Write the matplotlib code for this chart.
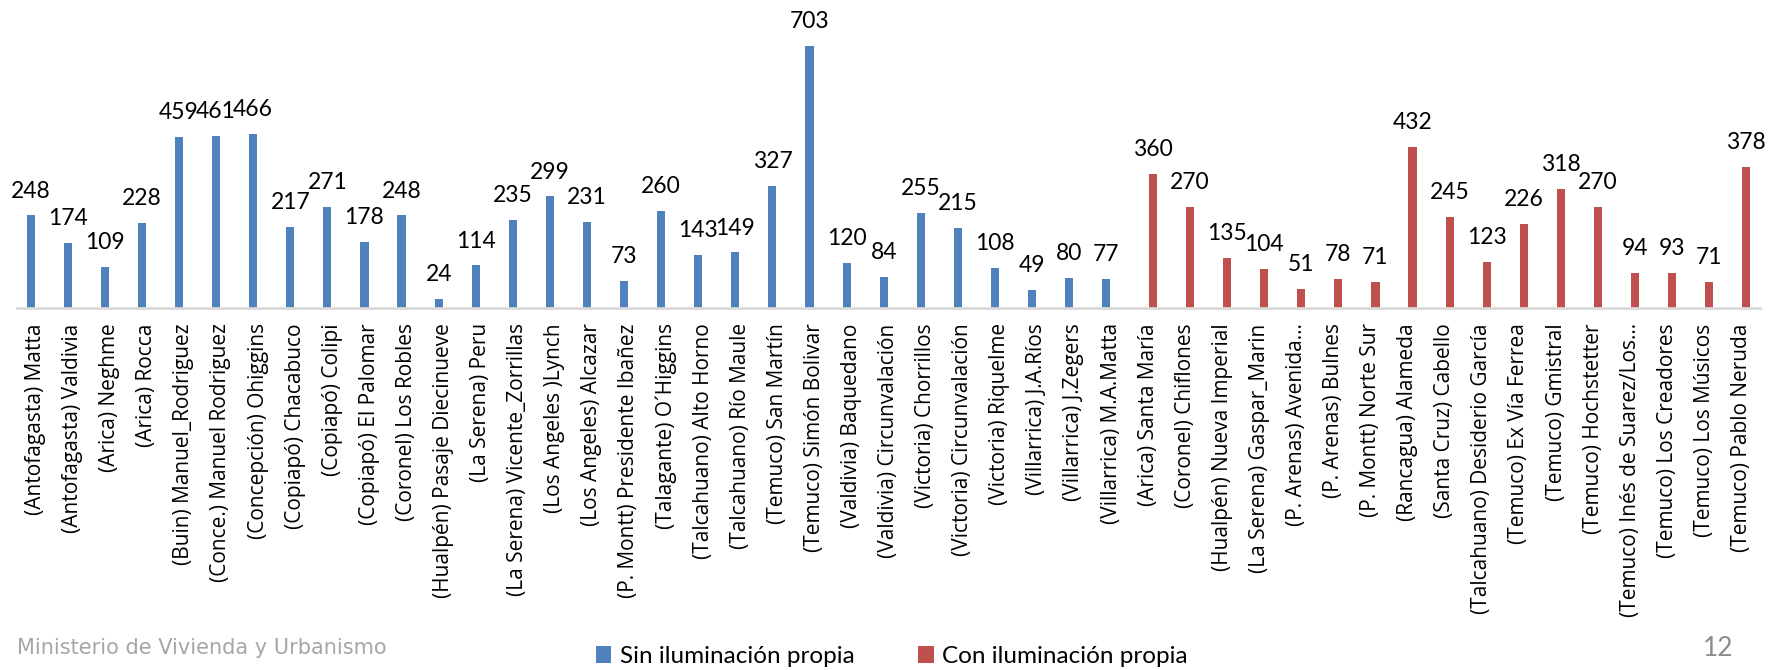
import numpy as np
import matplotlib.pyplot as plt

# Categorias (nombre de cada sitio)
sin_cats = ['(Antofagasta) Matta', '(Antofagasta) Valdivia', '(Arica) Neghme', '(Arica) Rocca',
            '(Buin) Manuel_Rodriguez', '(Conce.) Manuel Rodriguez', '(Concepción) Ohiggins',
            '(Copiapó) Chacabuco', '(Copiapó) Colipi', '(Copiapó) El Palomar', '(Coronel) Los Robles',
            '(Hualpén) Pasaje Diecinueve', '(La Serena) Peru', '(La Serena) Vicente_Zorrillas',
            '(Los Angeles )Lynch', '(Los Angeles) Alcazar', '(P. Montt) Presidente Ibañez',
            '(Talagante) O´Higgins', '(Talcahuano) Alto Horno', '(Talcahuano) Río Maule',
            '(Temuco) San Martín', '(Temuco) Simón Bolivar', '(Valdivia) Baquedano',
            '(Valdivia) Circunvalación', '(Victoria) Chorrillos', '(Victoria) Circunvalación',
            '(Victoria) Riquelme', '(Villarrica) J.A.Ríos', '(Villarrica) J.Zegers',
            '(Villarrica) M.A.Matta']
con_cats = ['(Arica) Santa María', '(Coronel) Chiflones', '(Hualpén) Nueva Imperial',
            '(La Serena) Gaspar_Marin', '(P. Arenas) Avenida…', '(P. Arenas) Bulnes',
            '(P. Montt) Norte Sur', '(Rancagua) Alameda', '(Santa Cruz) Cabello',
            '(Talcahuano) Desiderio García', '(Temuco) Ex Vía Ferrea', '(Temuco) Gmistral',
            '(Temuco) Hochstetter', '(Temuco) Inés de Suarez/Los…', '(Temuco) Los Creadores',
            '(Temuco) Los Músicos', '(Temuco) Pablo Neruda']

sin_vals = [248, 174, 109, 228, 459, 461, 466, 217, 271, 178, 248, 24, 114, 235, 299,
            231, 73, 260, 143, 149, 327, 703, 120, 84, 255, 215, 108, 49, 80, 77]
con_vals = [360, 270, 135, 104, 51, 78, 71, 432, 245, 123, 226, 318, 270, 94, 93, 71, 378]

azul = '#4F81BD'
rojo = '#C0504D'

fig = plt.figure(figsize=(17.87, 6.70), dpi=100)
ax = fig.add_axes([0.0095, 0.5403, 0.9754, 0.4455])

n_sin = len(sin_vals)
x_sin = np.arange(n_sin)
x_con = np.arange(n_sin, n_sin + len(con_vals))
off = 0.13
w = 0.22

b1 = ax.bar(x_sin - off, sin_vals, width=w, color=azul, label='Sin iluminación propia')
b2 = ax.bar(x_con + off, con_vals, width=w, color=rojo, label='Con iluminación propia')

# etiquetas de valor
for b in (b1, b2):
    ax.bar_label(b, padding=10, fontsize=16.5, family='Lato', color='black')

ax.set_xlim(-0.5, n_sin + len(con_vals) - 0.5)
ax.set_ylim(0, 800)
ax.set_xticks(np.arange(n_sin + len(con_vals)))
ax.set_xticklabels(sin_cats + con_cats, rotation=90, fontsize=15, family='Open Sans')
ax.tick_params(axis='x', length=0, pad=11)
ax.set_yticks([])
for s in ['top', 'right', 'left']:
    ax.spines[s].set_visible(False)
ax.spines['bottom'].set_color('#D9D9D9')
ax.spines['bottom'].set_linewidth(2)

# leyenda abajo
fig.legend(handles=[b1, b2], loc='center', bbox_to_anchor=(0.499, 0.02), ncol=2,
           frameon=False, prop={'family': 'Lato', 'size': 17.5}, handlelength=0.65,
           handleheight=0.65, columnspacing=2.6, handletextpad=0.35, borderpad=0)

# pie de pagina
fig.text(0.0095, 0.024, 'Ministerio de Vivienda y Urbanismo', fontsize=15, color='#A6A6A6',
         family='DejaVu Sans', va='baseline')
fig.text(0.953, 0.021, '12', fontsize=19, color='#8C8C8C', family='Lato', va='baseline')

plt.savefig('out.png', dpi=100)
